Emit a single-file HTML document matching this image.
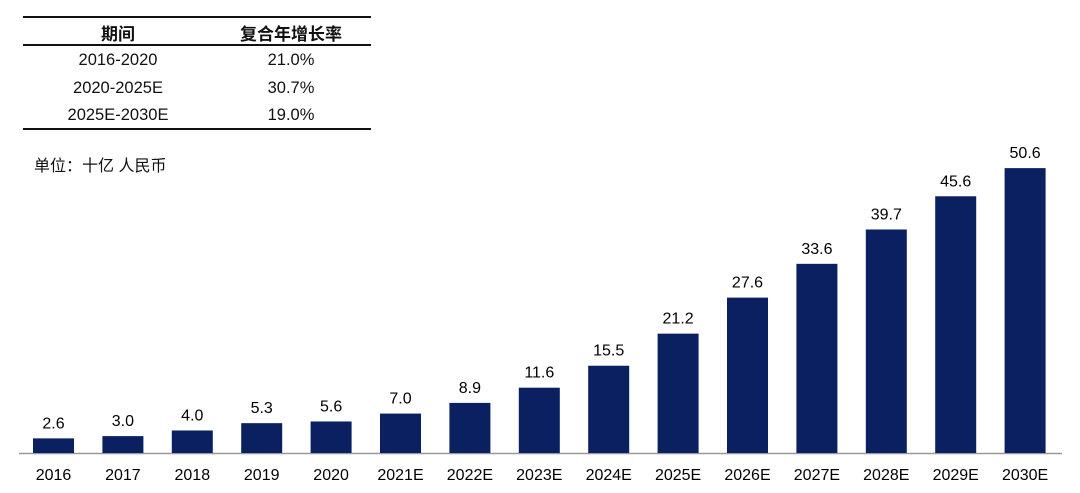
<!DOCTYPE html>
<html><head><meta charset="utf-8"><style>
html,body{margin:0;padding:0;background:#fff;}
body{width:1080px;height:493px;position:relative;overflow:hidden;font-family:"Liberation Sans","Noto Sans CJK SC",sans-serif;color:#111;}
.t{position:absolute;white-space:nowrap;}
</style></head><body>
<div style="position:absolute;left:23px;top:16px;width:348px;height:2px;background:#111"></div>
<div style="position:absolute;left:23px;top:44px;width:348px;height:2px;background:#111"></div>
<div style="position:absolute;left:23px;top:128px;width:348px;height:2px;background:#111"></div>
<div class="t" style="left:58px;width:120px;text-align:center;top:20px;font-size:17px;font-weight:bold">期间</div>
<div class="t" style="left:221px;width:140px;text-align:center;top:20px;font-size:17px;font-weight:bold">复合年增长率</div>
<div class="t" style="left:38px;width:160px;text-align:center;top:51px;font-size:16.5px">2016-2020</div>
<div class="t" style="left:38px;width:160px;text-align:center;top:79px;font-size:16.5px">2020-2025E</div>
<div class="t" style="left:38px;width:160px;text-align:center;top:106px;font-size:16.5px">2025E-2030E</div>
<div class="t" style="left:216px;width:150px;text-align:center;top:51px;font-size:16.5px">21.0%</div>
<div class="t" style="left:216px;width:150px;text-align:center;top:79px;font-size:16.5px">30.7%</div>
<div class="t" style="left:216px;width:150px;text-align:center;top:106px;font-size:16.5px">19.0%</div>
<div class="t" style="left:34px;top:152px;font-size:16px">单位：十亿 人民币</div>
<svg width="1080" height="493" style="position:absolute;left:0;top:0" id="s"></svg>
<script>
var v=[2.6,3.0,4.0,5.3,5.6,7.0,8.9,11.6,15.5,21.2,27.6,33.6,39.7,45.6,50.6];
var l=["2016","2017","2018","2019","2020","2021E","2022E","2023E","2024E","2025E","2026E","2027E","2028E","2029E","2030E"];
var h='<line x1="19" y1="453.5" x2="1062" y2="453.5" stroke="#999" stroke-width="1.5"/>';
for(var i=0;i<15;i++){var c=53.5+i*69.4,t=453-v[i]*5.63;
h+='<rect x="'+(c-20.5)+'" y="'+t+'" width="41" height="'+(453-t)+'" fill="#0b2060"/>';
h+='<text x="'+c+'" y="'+(t-10)+'" font-size="16" text-anchor="middle" font-family="Liberation Sans">'+v[i].toFixed(1)+'</text>';
h+='<text x="'+c+'" y="480" font-size="16" text-anchor="middle" font-family="Liberation Sans">'+l[i]+'</text>';}
document.getElementById('s').innerHTML=h;
</script>
</body></html>
